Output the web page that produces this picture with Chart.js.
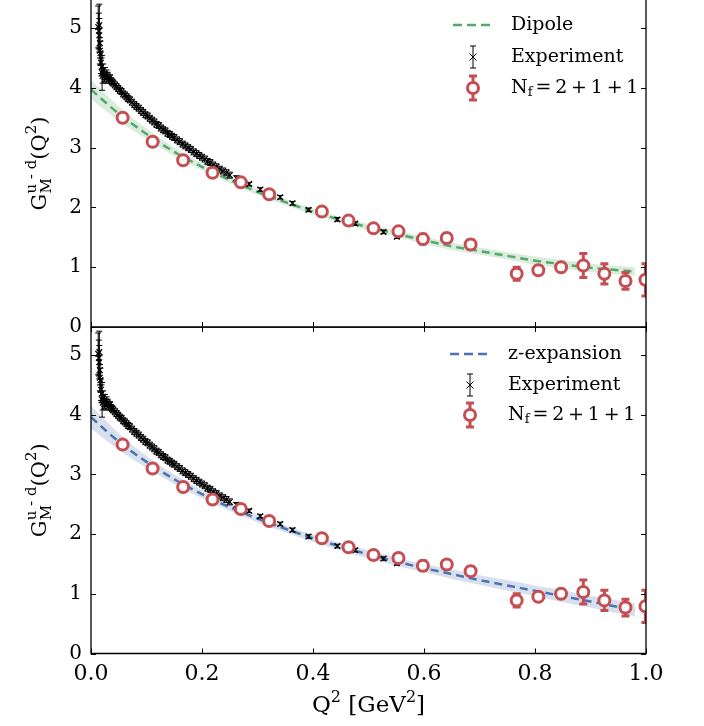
<!DOCTYPE html>
<html>
<head>
<meta charset="utf-8">
<script src="https://cdn.jsdelivr.net/npm/chart.js@4.4.0/dist/chart.umd.min.js"></script>
<style>
  body { margin: 0; background: #fff; }
  #wrap { position: relative; width: 704px; height: 726px; }
  #topBox { position: absolute; left: 0; top: 0; width: 704px; height: 345px; }
  #botBox { position: absolute; left: 0; top: 327px; width: 704px; height: 399px; }
</style>
</head>
<body>
<div id="wrap">
  <div id="topBox"><canvas id="topChart"></canvas></div>
  <div id="botBox"><canvas id="botChart"></canvas></div>
</div>
<script>
// Lattice points (N_f = 2+1+1)
const latQ = [0.057, 0.111, 0.166, 0.219, 0.270, 0.321, 0.416, 0.464, 0.509, 0.554,
              0.598, 0.641, 0.684, 0.767, 0.806, 0.847, 0.887, 0.925, 0.963, 0.999];
const latG = [3.50, 3.10, 2.79, 2.58, 2.42, 2.22, 1.93, 1.78, 1.65, 1.60,
              1.47, 1.49, 1.38, 0.89, 0.95, 1.00, 1.03, 0.89, 0.77, 0.79];
const latE = [0.03, 0.03, 0.03, 0.04, 0.04, 0.04, 0.05, 0.05, 0.05, 0.06,
              0.08, 0.07, 0.07, 0.11, 0.06, 0.07, 0.20, 0.17, 0.14, 0.27];

// Experimental points
const expQ = [0.013, 0.014, 0.015, 0.015, 0.016, 0.016, 0.017, 0.018, 0.019, 0.020,
              0.021, 0.022, 0.024, 0.025, 0.027, 0.028, 0.030, 0.032, 0.034, 0.036,
              0.038, 0.040, 0.043, 0.046, 0.049, 0.052, 0.055, 0.058, 0.061, 0.064,
              0.067, 0.070, 0.074, 0.078, 0.082, 0.086, 0.090, 0.094, 0.098, 0.102,
              0.106, 0.110, 0.114, 0.118, 0.122, 0.126, 0.130, 0.134, 0.138, 0.142,
              0.146, 0.150, 0.155, 0.160, 0.165, 0.170, 0.175, 0.180, 0.185, 0.190,
              0.195, 0.200, 0.205, 0.210, 0.215, 0.220, 0.226, 0.232, 0.238, 0.244,
              0.250, 0.262, 0.285, 0.305, 0.341, 0.363, 0.392, 0.444, 0.476, 0.527,
              0.551];
const expG = [5.02, 4.95, 4.88, 5.05, 4.75, 4.62, 4.58, 4.42, 4.35, 4.25,
              4.20, 4.30, 4.18, 4.24, 4.15, 4.22, 4.20, 4.14, 4.17, 4.12,
              4.10, 4.08, 4.05, 4.02, 3.99, 3.96, 3.94, 3.90, 3.88, 3.85,
              3.82, 3.80, 3.76, 3.72, 3.69, 3.66, 3.62, 3.59, 3.55, 3.53,
              3.49, 3.46, 3.43, 3.39, 3.37, 3.33, 3.30, 3.28, 3.24, 3.22,
              3.19, 3.17, 3.13, 3.10, 3.06, 3.03, 3.00, 2.97, 2.93, 2.90,
              2.87, 2.84, 2.81, 2.77, 2.75, 2.71, 2.68, 2.64, 2.61, 2.58,
              2.54, 2.49, 2.39, 2.30, 2.17, 2.07, 1.96, 1.80, 1.73, 1.59,
              1.51];
const expE = [0.35, 0.30, 0.28, 0.35, 0.25, 0.22, 0.20, 0.18, 0.15, 0.29,
              0.12, 0.10, 0.08, 0.10, 0.07, 0.08, 0.06, 0.06, 0.05, 0.05,
              0.05, 0.05, 0.05, 0.05, 0.05, 0.05, 0.05, 0.05, 0.05, 0.05,
              0.05, 0.05, 0.05, 0.05, 0.05, 0.05, 0.05, 0.05, 0.05, 0.05,
              0.05, 0.05, 0.05, 0.05, 0.05, 0.05, 0.05, 0.05, 0.05, 0.05,
              0.05, 0.05, 0.05, 0.05, 0.05, 0.05, 0.05, 0.05, 0.05, 0.05,
              0.05, 0.05, 0.05, 0.05, 0.05, 0.05, 0.05, 0.05, 0.05, 0.05,
              0.05, 0.04, 0.03, 0.03, 0.03, 0.03, 0.03, 0.03, 0.03, 0.03,
              0.03];

// Fit curves
const fitQ = [0, 0.05, 0.10, 0.15, 0.20, 0.25, 0.30, 0.35, 0.40, 0.45,
              0.50, 0.55, 0.60, 0.65, 0.70, 0.75, 0.80, 0.85, 0.90, 0.95, 0.98];
const dipoleG = [3.97, 3.57, 3.23, 2.93, 2.68, 2.46, 2.26, 2.09, 1.93, 1.79,
                 1.67, 1.56, 1.45, 1.35, 1.27, 1.19, 1.11, 1.05, 0.99, 0.95, 0.93];
const dipoleErr = [0.16, 0.12, 0.09, 0.07, 0.06, 0.05, 0.05, 0.05, 0.05, 0.05,
                   0.05, 0.05, 0.06, 0.06, 0.06, 0.06, 0.07, 0.07, 0.07, 0.07, 0.07];
const zexpG = [3.96, 3.55, 3.21, 2.92, 2.67, 2.45, 2.26, 2.09, 1.93, 1.79,
               1.66, 1.54, 1.43, 1.33, 1.23, 1.14, 1.05, 0.96, 0.87, 0.78, 0.73];
const zexpErr = [0.19, 0.14, 0.10, 0.08, 0.07, 0.06, 0.06, 0.06, 0.06, 0.06,
                 0.07, 0.07, 0.07, 0.08, 0.08, 0.09, 0.09, 0.10, 0.10, 0.11, 0.11];

const yTicks = [0, 1, 2, 3, 4, 5];
const xTicks = [0, 0.2, 0.4, 0.6, 0.8, 1.0];

const FONT = "'DejaVu Serif', serif";
const RED = "#C44E52", GREEN = "#55A868", BLUE = "#4C72B0";

function xy(xs, ys) {
  return xs.map((x, i) => ({ x: x, y: ys[i] }));
}

// no extra padding from tick labels, the plot box is placed by hand
function noPad(s) {
  s.paddingTop = 0; s.paddingBottom = 0;
  s.paddingLeft = 0; s.paddingRight = 0;
}

// error bars, drawn just before their own dataset so the markers sit on top
const errorBars = {
  id: "errorBars",
  beforeDatasetDraw(chart, args) {
    const ds = chart.data.datasets[args.index];
    if (!ds.errors) return;
    const ctx = chart.ctx, a = chart.chartArea;
    const xs = chart.scales.x, ys = chart.scales.y;
    ctx.save();
    ctx.beginPath();
    ctx.rect(a.left, a.top, a.right - a.left, a.bottom - a.top);
    ctx.clip();
    ctx.strokeStyle = ds.errColor;
    ctx.lineWidth = ds.errWidth;
    ds.data.forEach((p, i) => {
      const px = xs.getPixelForValue(p.x);
      const y1 = ys.getPixelForValue(p.y + ds.errors[i]);
      const y2 = ys.getPixelForValue(p.y - ds.errors[i]);
      ctx.beginPath();
      ctx.moveTo(px, y1); ctx.lineTo(px, y2);
      ctx.moveTo(px - ds.capHalf, y1); ctx.lineTo(px + ds.capHalf, y1);
      ctx.moveTo(px - ds.capHalf, y2); ctx.lineTo(px + ds.capHalf, y2);
      ctx.stroke();
    });
    ctx.restore();
  }
};

function drawCross(ctx, x, y, r) {
  ctx.beginPath();
  ctx.moveTo(x - r, y - r); ctx.lineTo(x + r, y + r);
  ctx.moveTo(x - r, y + r); ctx.lineTo(x + r, y - r);
  ctx.stroke();
}

function drawBar(ctx, x, y, half, cap) {
  ctx.beginPath();
  ctx.moveTo(x, y - half); ctx.lineTo(x, y + half);
  ctx.moveTo(x - cap, y - half); ctx.lineTo(x + cap, y - half);
  ctx.moveTo(x - cap, y + half); ctx.lineTo(x + cap, y + half);
  ctx.stroke();
}

// frame, inward ticks, legend and axis titles
const panelDeco = {
  id: "panelDeco",
  afterDraw(chart, args, o) {
    const ctx = chart.ctx, a = chart.chartArea;
    const xs = chart.scales.x, ys = chart.scales.y;
    ctx.save();
    ctx.strokeStyle = "#000";
    ctx.lineWidth = 1.3;
    ctx.beginPath();
    ctx.moveTo(a.left, a.top); ctx.lineTo(a.left, a.bottom);
    ctx.lineTo(a.right, a.bottom); ctx.lineTo(a.right, a.top);
    if (o.topLine) { ctx.lineTo(a.left, a.top); }
    ctx.stroke();

    ctx.lineWidth = 1;
    ctx.beginPath();
    xTicks.forEach(v => {
      const px = Math.round(xs.getPixelForValue(v)) + 0.5;
      ctx.moveTo(px, a.bottom); ctx.lineTo(px, a.bottom - 5);
      if (o.topLine) { ctx.moveTo(px, a.top); ctx.lineTo(px, a.top + 5); }
    });
    yTicks.forEach(v => {
      const py = Math.round(ys.getPixelForValue(v)) + 0.5;
      ctx.moveTo(a.left, py); ctx.lineTo(a.left + 5, py);
      ctx.moveTo(a.right, py); ctx.lineTo(a.right - 5, py);
    });
    ctx.stroke();

    // legend
    const sx = o.legSym, tx = o.legText, ly = o.legY;
    ctx.strokeStyle = o.fitColor;
    ctx.lineWidth = 2.5;
    ctx.setLineDash([9, 5]);
    ctx.beginPath();
    ctx.moveTo(sx - 20, ly[0]); ctx.lineTo(sx + 20, ly[0]);
    ctx.stroke();
    ctx.setLineDash([]);

    ctx.strokeStyle = "#000";
    ctx.lineWidth = 1;
    drawBar(ctx, sx, ly[1], 11, 3);
    drawCross(ctx, sx, ly[1], 3.5);

    ctx.strokeStyle = RED;
    ctx.lineWidth = 3;
    drawBar(ctx, sx, ly[2], 12, 4);
    ctx.fillStyle = "#fff";
    ctx.beginPath();
    ctx.arc(sx, ly[2], 5.5, 0, Math.PI * 2);
    ctx.fill();
    ctx.stroke();

    ctx.fillStyle = "#000";
    ctx.textBaseline = "middle";
    ctx.textAlign = "left";
    ctx.font = "19px " + FONT;
    ctx.fillText(o.fitLabel, tx, ly[0]);
    ctx.fillText("Experiment", tx, ly[1]);
    ctx.fillText("N", tx, ly[2]);
    let w = ctx.measureText("N").width;
    ctx.font = "13px " + FONT;
    ctx.fillText("f", tx + w, ly[2] + 5);
    w += ctx.measureText("f").width + 3;
    ctx.font = "19px " + FONT;
    ctx.fillText("=\u20092\u2009+\u20091\u2009+\u20091", tx + w, ly[2]);

    // y title
    ctx.save();
    ctx.translate(46, (a.top + a.bottom) / 2);
    ctx.rotate(-Math.PI / 2);
    ctx.textBaseline = "alphabetic";
    const big = "21px " + FONT, small = "15px " + FONT;
    ctx.font = big;
    const wG = ctx.measureText("G").width, wQ = ctx.measureText("(Q").width;
    const wP = ctx.measureText(")").width;
    ctx.font = small;
    const wS = Math.max(ctx.measureText("M").width, ctx.measureText("u - d").width);
    const w2 = ctx.measureText("2").width;
    let x = -(wG + wS + wQ + w2 + wP) / 2;
    ctx.font = big; ctx.fillText("G", x, 0); x += wG;
    ctx.font = small; ctx.fillText("M", x, 5); ctx.fillText("u - d", x, -10); x += wS;
    ctx.font = big; ctx.fillText("(Q", x, 0); x += wQ;
    ctx.font = small; ctx.fillText("2", x, -10); x += w2;
    ctx.font = big; ctx.fillText(")", x, 0);
    ctx.restore();

    // x title
    if (o.xTitle) {
      const xbig = "23px " + FONT, xsmall = "16px " + FONT;
      ctx.textBaseline = "alphabetic";
      const parts = [["Q", xbig, 0], ["2", xsmall, -10], [" [GeV", xbig, 0], ["2", xsmall, -10], ["]", xbig, 0]];
      let tw = 0;
      parts.forEach(p => { ctx.font = p[1]; tw += ctx.measureText(p[0]).width; });
      let px = (a.left + a.right) / 2 - tw / 2;
      parts.forEach(p => {
        ctx.font = p[1];
        ctx.fillText(p[0], px, o.xTitleY + p[2]);
        px += ctx.measureText(p[0]).width;
      });
    }
    ctx.restore();
  }
};

function buildConfig(c) {
  const hi = c.fitG.map((g, i) => g + c.fitErr[i]);
  const lo = c.fitG.map((g, i) => g - c.fitErr[i]);
  return {
    type: "scatter",
    data: {
      datasets: [
        {
          label: "N_f = 2+1+1",
          data: xy(latQ, latG),
          errors: latE, errColor: RED, errWidth: 3, capHalf: 4,
          pointStyle: "circle", pointRadius: 5.5, borderWidth: 3,
          borderColor: RED, backgroundColor: "#fff", showLine: false, clip: 0
        },
        {
          label: "Experiment",
          data: xy(expQ, expG),
          errors: expE, errColor: "#000", errWidth: 1, capHalf: 3,
          pointStyle: "crossRot", pointRadius: 4, borderWidth: 1.2,
          borderColor: "#000", showLine: false, clip: 0
        },
        {
          label: c.fitLabel,
          data: xy(fitQ, c.fitG),
          showLine: true, borderColor: c.fitColor, borderWidth: 2.5, borderDash: [8, 5],
          pointRadius: 0, fill: false, cubicInterpolationMode: "monotone", clip: 0
        },
        {
          label: "band hi",
          data: xy(fitQ, hi),
          showLine: true, borderWidth: 0, borderColor: "transparent", pointRadius: 0,
          fill: "+1", backgroundColor: c.bandColor, cubicInterpolationMode: "monotone", clip: 0
        },
        {
          label: "band lo",
          data: xy(fitQ, lo),
          showLine: true, borderWidth: 0, borderColor: "transparent", pointRadius: 0,
          fill: false, cubicInterpolationMode: "monotone", clip: 0
        }
      ]
    },
    options: {
      responsive: true,
      maintainAspectRatio: false,
      animation: false,
      layout: { autoPadding: false, padding: { left: 0, right: 58, top: 0, bottom: 0 } },
      plugins: {
        legend: { display: false },
        tooltip: { enabled: false },
        panelDeco: {
          topLine: c.topLine, fitColor: c.fitColor, fitLabel: c.fitLabel,
          legSym: c.legSym, legText: c.legText, legY: c.legY,
          xTitle: c.xTitle, xTitleY: c.xTitleY
        }
      },
      scales: {
        x: {
          type: "linear", min: 0, max: 1,
          grid: { display: false, drawTicks: false },
          border: { display: false },
          afterBuildTicks: s => { s.ticks = xTicks.map(v => ({ value: v })); },
          ticks: {
            display: c.xTitle, padding: 8, color: "#000", maxRotation: 0,
            font: { family: FONT, size: 22 },
            callback: v => v.toFixed(1)
          },
          afterFit: s => { s.height = c.xHeight; noPad(s); }
        },
        y: {
          min: 0, max: 5.47,
          grid: { display: false, drawTicks: false },
          border: { display: false },
          afterBuildTicks: s => { s.ticks = yTicks.map(v => ({ value: v })); },
          ticks: {
            padding: 9, color: "#000",
            font: { family: FONT, size: 20 },
            callback: v => String(v)
          },
          afterFit: s => { s.width = 91; noPad(s); }
        }
      }
    },
    plugins: [errorBars, panelDeco]
  };
}

// top panel canvas runs 18px past its plot box so the "0" label is not cut
const topChart = new Chart(document.getElementById("topChart"), buildConfig({
  fitLabel: "Dipole", fitColor: GREEN, bandColor: "rgba(85,168,104,0.22)",
  fitG: dipoleG, fitErr: dipoleErr,
  topLine: false, xTitle: false, xHeight: 18, xTitleY: 0,
  legSym: 473, legText: 511, legY: [25, 57, 88]
}));

const botChart = new Chart(document.getElementById("botChart"), buildConfig({
  fitLabel: "z-expansion", fitColor: BLUE, bandColor: "rgba(76,114,176,0.22)",
  fitG: zexpG, fitErr: zexpErr,
  topLine: true, xTitle: true, xHeight: 72.5, xTitleY: 385,
  legSym: 470, legText: 508, legY: [27, 58, 88]
}));
</script>
</body>
</html>
